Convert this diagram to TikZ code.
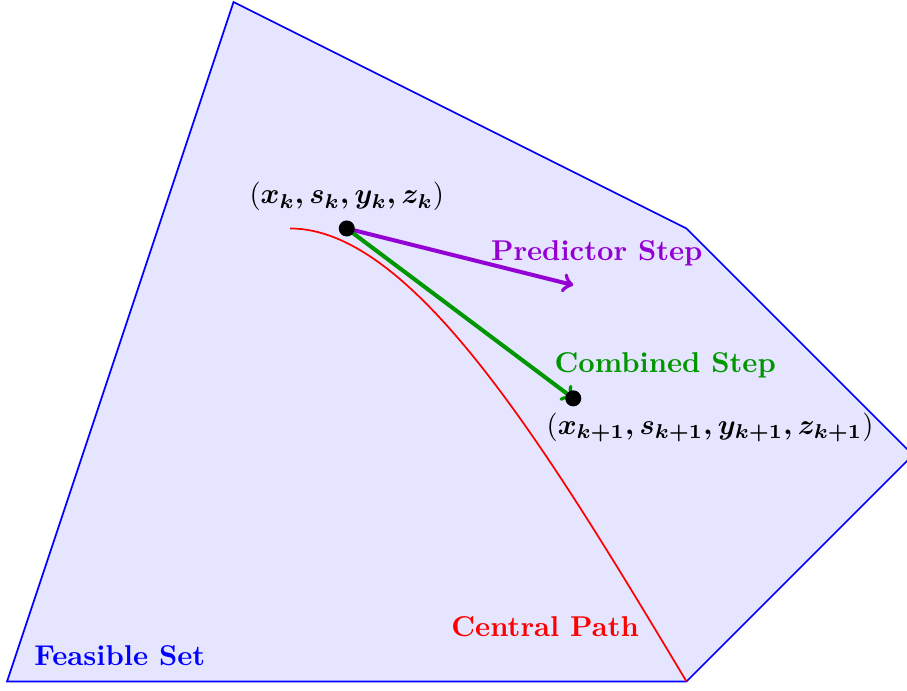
\documentclass[tikz,border=0pt]{standalone}
\usepackage{amsmath}
\definecolor{predcol}{RGB}{148,0,211}
\definecolor{combcol}{RGB}{0,150,0}
\begin{document}
\begin{tikzpicture}[x=0.556cm,y=0.556cm,
  region/.style={draw=blue,fill=blue!10,line width=0.6pt},
  cpath/.style={draw=red,line width=0.6pt},
  steparrow/.style={->,line width=1.4pt},
  dotmark/.style={circle,fill=black,inner sep=0pt,minimum size=5.6pt},
  lbl/.style={font=\bfseries}]
\useasboundingbox (-0.155,-0.199) rectangle (19.868,15.044);
\path[region] (0,0) -- (5,15) -- (15,10) -- (20,5) -- (15,0) -- cycle;
\coordinate (start) at (6.25,10);
\coordinate (finish) at (15,0);
\draw[cpath] (start) .. controls (9,10) and (12,5) .. (finish);
\coordinate (xk) at (7.5,10);
\coordinate (xk1) at (12.5,6.25);
\coordinate (pred) at (12.5,8.75);
\draw[steparrow,predcol] (xk) -- (pred);
\draw[steparrow,combcol] (xk) -- (xk1);
\node[dotmark] (dk) at (xk) {};
\node[dotmark] (dk1) at (xk1) {};
\node (lk) at (7.5,10.7) {$(\boldsymbol{x_k, s_k, y_k, z_k})$};
\node (lk1) at (15.52,5.61) {$(\boldsymbol{x_{k+1}, s_{k+1}, y_{k+1}, z_{k+1}})$};
\node[lbl,text=predcol] (lp) at (13.02,9.46) {Predictor Step};
\node[lbl,text=combcol] (lc) at (14.53,6.98) {Combined Step};
\node[lbl,text=red] (lcp) at (11.88,1.21) {Central Path};
\node[lbl,text=blue] (lf) at (2.49,0.57) {Feasible Set};
\end{tikzpicture}
\end{document}
